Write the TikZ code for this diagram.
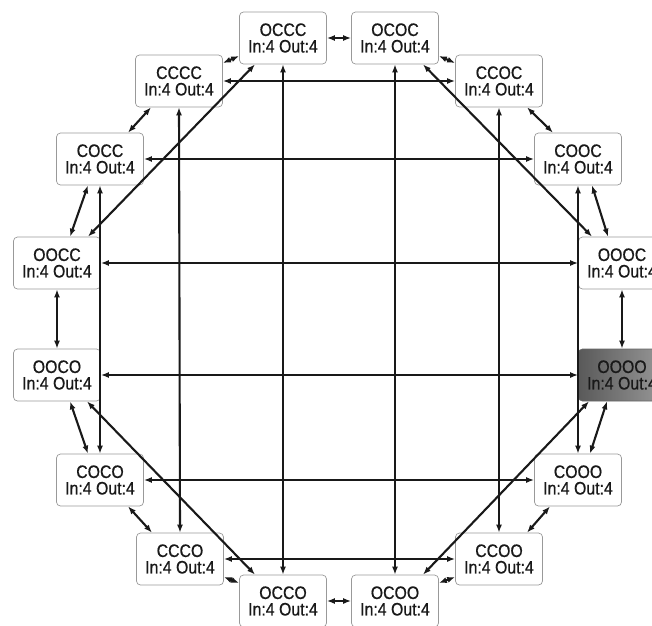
\documentclass[tikz,border=0pt]{standalone}
\usepackage{fontspec}
\setmainfont{Liberation Sans}[FakeStretch=0.88,FakeBold=0.6]
\usetikzlibrary{arrows.meta}
\tikzset{
  st/.style={draw=black!40, line width=0.7pt, rounded corners=4pt, fill=white,
    minimum width=87pt, minimum height=52pt, inner sep=0pt, align=center,
    font=\fontsize{18}{16.5}\selectfont, text=black!90},
  hot/.style={st, draw=black!60, left color=black!65, right color=black!40},
  lk/.style={draw=black!90, line width=2.1pt,
    {Latex[length=8pt,width=6pt]}-{Latex[length=8pt,width=6pt]}}
}
\begin{document}
\begin{tikzpicture}[x=1pt,y=-1pt]
\clip (0,0) rectangle (652,625);
\fill[white] (0,0) rectangle (652,625);
% nodes
\node[st]  (OCCC) at (283,38)  {OCCC\\In:4 Out:4};
\node[st]  (OCOC) at (395,38)  {OCOC\\In:4 Out:4};
\node[st]  (CCOC) at (499,81)  {CCOC\\In:4 Out:4};
\node[st]  (COOC) at (578,159) {COOC\\In:4 Out:4};
\node[st]  (OOOC) at (622,263) {OOOC\\In:4 Out:4};
\node[hot] (OOOO) at (622,375) {OOOO\\In:4 Out:4};
\node[st]  (COOO) at (578,480) {COOO\\In:4 Out:4};
\node[st]  (CCOO) at (499,559) {CCOO\\In:4 Out:4};
\node[st]  (OCOO) at (395,601) {OCOO\\In:4 Out:4};
\node[st]  (OCCO) at (283,601) {OCCO\\In:4 Out:4};
\node[st]  (CCCO) at (180,559) {CCCO\\In:4 Out:4};
\node[st]  (COCO) at (100,480) {COCO\\In:4 Out:4};
\node[st]  (OOCO) at (57,375)  {OOCO\\In:4 Out:4};
\node[st]  (OOCC) at (57,263)  {OOCC\\In:4 Out:4};
\node[st]  (COCC) at (100,159) {COCC\\In:4 Out:4};
\node[st]  (CCCC) at (179,81)  {CCCC\\In:4 Out:4};
% grid lines
\draw[lk] (CCCC.south) -- (CCCO.north);
\draw[lk] (OCCC.south) -- (OCCO.north);
\draw[lk] (OCOC.south) -- (OCOO.north);
\draw[lk] (CCOC.south) -- (CCOO.north);
\draw[lk] (COCC.south) -- (COCO.north);
\draw[lk] (COOC.south) -- (COOO.north);
\draw[lk] (CCCC.east) -- (CCOC.west);
\draw[lk] (COCC.east) -- (COOC.west);
\draw[lk] (OOCC.east) -- (OOOC.west);
\draw[lk] (OOCO.east) -- (OOOO.west);
\draw[lk] (COCO.east) -- (COOO.west);
\draw[lk] (CCCO.east) -- (CCOO.west);
% diagonals
\draw[lk] ([xshift=-28pt]OCCC.south) -- ([xshift=31pt]OOCC.north);
\draw[lk] ([xshift=28pt]OCOC.south) -- ([xshift=-30pt]OOOC.north);
\draw[lk] ([xshift=-28pt]OCCO.north) -- ([xshift=30pt]OOCO.south);
\draw[lk] ([xshift=28pt]OCOO.north) -- ([xshift=-33pt]OOOO.south);
% ring
\draw[lk] (OCCC.east) -- (OCOC.west);
\draw[lk] ([yshift=-18pt]OCOC.east) -- ([yshift=18pt]CCOC.west);
\draw[lk] ([xshift=28pt]CCOC.south) -- ([xshift=-25pt]COOC.north);
\draw[lk] ([xshift=14pt]COOC.south) -- ([xshift=-14pt]OOOC.north);
\draw[lk] (OOOC.south) -- (OOOO.north);
\draw[lk] ([xshift=-15pt]OOOO.south) -- ([xshift=12pt]COOO.north);
\draw[lk] ([xshift=-28pt]COOO.south) -- ([xshift=28pt]CCOO.north);
\draw[lk] ([yshift=-18pt]CCOO.west) -- ([yshift=18pt]OCOO.east);
\draw[lk] (OCOO.west) -- (OCCO.east);
\draw[lk] ([yshift=18pt]OCCO.west) -- ([yshift=-18pt]CCCO.east);
\draw[lk] ([xshift=-28pt]CCCO.north) -- ([xshift=28pt]COCO.south);
\draw[lk] ([xshift=-12pt]COCO.north) -- ([xshift=13pt]OOCO.south);
\draw[lk] (OOCO.north) -- (OOCC.south);
\draw[lk] ([xshift=13pt]OOCC.north) -- ([xshift=-12pt]COCC.south);
\draw[lk] ([xshift=28pt]COCC.north) -- ([xshift=-28pt]CCCC.south);
\draw[lk] ([yshift=18pt]CCCC.east) -- ([yshift=-18pt]OCCC.west);
\end{tikzpicture}
\end{document}
